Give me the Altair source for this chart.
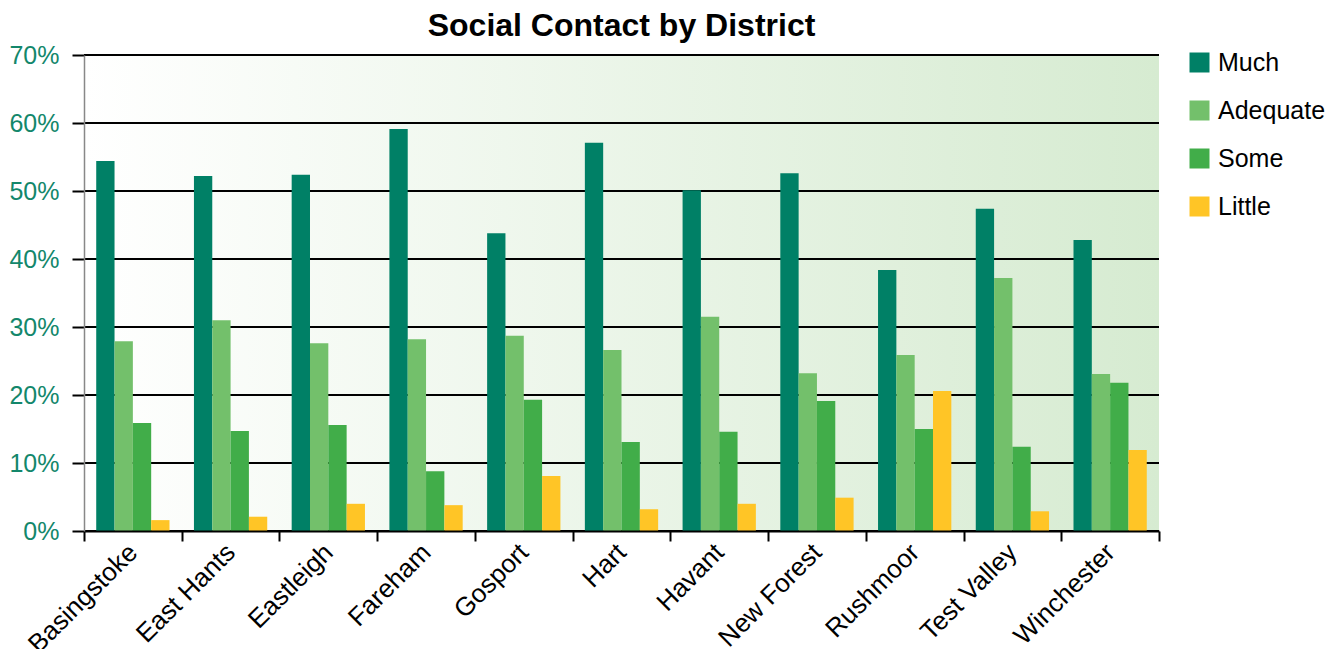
import altair as alt
import pandas as pd

districts = ["Basingstoke", "East Hants", "Eastleigh", "Fareham", "Gosport", "Hart",
             "Havant", "New Forest", "Rushmoor", "Test Valley", "Winchester"]
levels = ["Much", "Adequate", "Some", "Little"]
much = [54.4, 52.2, 52.4, 59.1, 43.8, 57.1, 50.1, 52.6, 38.4, 47.4, 42.8]
adequate = [27.9, 31.0, 27.6, 28.2, 28.7, 26.6, 31.5, 23.2, 25.9, 37.2, 23.1]
some = [15.9, 14.7, 15.6, 8.8, 19.3, 13.1, 14.6, 19.1, 15.0, 12.4, 21.8]
little = [1.6, 2.1, 4.0, 3.8, 8.1, 3.2, 4.0, 4.9, 20.6, 2.9, 11.9]
y_ticks = [0, 0.1, 0.2, 0.3, 0.4, 0.5, 0.6, 0.7]
colors = ["#008066", "#73C06B", "#41AD49", "#FFC526"]

rows = []
for series_name, series in zip(levels, [much, adequate, some, little]):
    for d, v in zip(districts, series):
        rows.append({"District": d, "Level": series_name, "value": v / 100.0})
df = pd.DataFrame(rows)
grid_df = pd.DataFrame({"v": y_ticks})

FONT = "Liberation Sans"
W, H = 1075, 476

gradient = alt.Gradient(
    gradient="linear",
    stops=[alt.GradientStop(color="#FFFFFF", offset=0),
           alt.GradientStop(color="#D6EBD1", offset=1)],
    x1=0, x2=1, y1=0, y2=0,
)

bg = alt.Chart(alt.Data(values=[{"a": 1}])).mark_rect(fill=gradient, stroke=None).encode(
    x=alt.value(0), x2=alt.value("width"), y=alt.value(0), y2=alt.value("height")
)

grid = alt.Chart(grid_df).mark_rule(color="black", strokeWidth=2).encode(
    y=alt.Y("v:Q", scale=alt.Scale(domain=[0, 0.7]))
)

bars = alt.Chart(df).mark_bar().encode(
    x=alt.X("District:N", sort=districts,
            scale=alt.Scale(paddingInner=0, paddingOuter=0),
            axis=alt.Axis(title=None, labelAngle=-45, labelAlign="right", labelBaseline="middle",
                          labelFontSize=26, labelFont=FONT, labelColor="black",
                          labelPadding=7, tickBand="extent", tickSize=10, tickColor="black",
                          tickWidth=2, domainColor="black", domainWidth=2, zindex=1)),
    xOffset=alt.XOffset("Level:N", sort=levels,
                        scale=alt.Scale(paddingInner=0, paddingOuter=0.667)),
    y=alt.Y("value:Q", scale=alt.Scale(domain=[0, 0.7]),
            axis=alt.Axis(title=None, values=y_ticks, format=".0%", grid=False,
                          labelFontSize=25, labelFont=FONT, labelColor="#13876B",
                          labelPadding=13, tickSize=12, tickColor="black", tickWidth=2,
                          domainColor="#888888", domainWidth=1.5, zindex=1)),
    color=alt.Color("Level:N", sort=levels,
                    scale=alt.Scale(domain=levels, range=colors),
                    legend=alt.Legend(title=None, orient="none", legendX=1103, legendY=-5,
                                      symbolType="square", symbolSize=400, symbolStrokeWidth=0,
                                      labelFontSize=25, labelFont=FONT, labelColor="black",
                                      labelOffset=6, rowPadding=22, padding=0)),
)

chart = alt.layer(bg, grid, bars).properties(
    width=W, height=H,
    title=alt.TitleParams("Social Contact by District", fontSize=32, fontWeight="bold",
                          font=FONT, anchor="middle", offset=0, color="black"),
    autosize=alt.AutoSizeParams(type="none"),
    padding={"left": 76, "top": 47, "right": 169, "bottom": 118},
).configure_view(stroke=None)

chart.save("out.html", embed_options={"renderer": "svg", "actions": False})
